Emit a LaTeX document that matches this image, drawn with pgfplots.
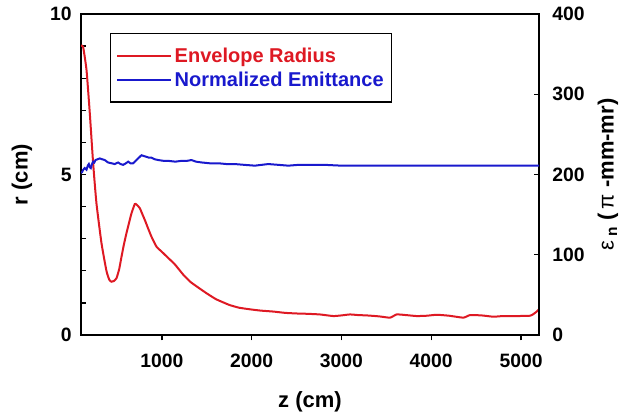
\documentclass[border=0pt]{standalone}
\usepackage{fontspec}
\setmainfont{Liberation Sans}
\usepackage{pgfplots}
\pgfplotsset{compat=1.18}
\definecolor{myred}{RGB}{222,25,35}
\definecolor{myblue}{RGB}{25,25,205}
\begin{document}
\begin{tikzpicture}
\pgfplotsset{
  every axis/.append style={
    scale only axis, width=343.5pt, height=240.75pt,
    xmin=100, xmax=5200,
    axis line style={line width=1.1pt},
    /pgf/number format/assume math mode=true,
    /pgf/number format/1000 sep={},
    scaled ticks=false,
    tick label style={font=\fontsize{14.5}{16}\selectfont\bfseries},
    label style={font=\fontsize{16.5}{19}\selectfont\bfseries},
    major tick length=4pt, minor tick length=3.5pt,
    every tick/.style={black, line width=1pt},
  }
}
\begin{axis}[
  ymin=0, ymax=10,
  ytick={0,5,10}, minor ytick={1,2,3,4,6,7,8,9},
  xtick={1000,2000,3000,4000,5000},
  xtick pos=left, ytick pos=left,
  xtick align=outside, ytick align=inside,
  xticklabel style={yshift=-6.5pt},
  yticklabel style={xshift=-3.5pt},
  xlabel={z (cm)}, ylabel={r (cm)},
  xlabel style={at={(axis description cs:0.5,-0.209)},anchor=center},
  ylabel style={at={(axis description cs:-0.129,0.5)},anchor=center},
]
\coordinate (bbll) at (axis description cs:-0.1769,-0.2523);
\coordinate (bbur) at (axis description cs:1.2183,1.0436);
\addplot[myred, line width=1.5pt, smooth, tension=0.3] coordinates {
(100,9.0) (123,8.98) (161,8.26) (198,6.9) (235,5.35) (272,4.1) (328,2.86)
(383,2.0) (415,1.72) (439,1.66) (465,1.68) (495,1.77) (525,2.05) (551,2.44)
(580,2.85) (606,3.17) (635,3.5) (662,3.79) (699,4.08) (720,4.06) (755,3.95)
(785,3.75) (811,3.58) (850,3.3) (885,3.06) (941,2.75) (997,2.6) (1071,2.4)
(1145,2.2) (1238,1.88) (1320,1.65) (1420,1.45) (1498,1.30) (1600,1.12)
(1680,1.02) (1758,0.93) (1860,0.85) (1981,0.80) (2100,0.76) (2241,0.73)
(2370,0.69) (2501,0.67) (2620,0.66) (2760,0.64) (2909,0.59) (3000,0.61)
(3095,0.64) (3190,0.62) (3281,0.61) (3420,0.58) (3541,0.54) (3615,0.64)
(3720,0.62) (3838,0.59) (3950,0.6) (4061,0.63) (4200,0.6) (4357,0.54)
(4432,0.62) (4560,0.61) (4692,0.57) (4800,0.59) (4950,0.59) (5100,0.60)
(5137,0.65) (5170,0.72) (5204,0.81)
};
\end{axis}
\begin{axis}[
  axis x line=none, axis y line*=right,
  axis line style={-},
  ymin=0, ymax=400, ytick={0,100,200,300,400},
  ytick align=inside, ytick pos=right,
  yticklabel style={xshift=6.5pt},
  ylabel={{\mdseries ε}\textsubscript{ n} (\,{\mdseries π} -mm-mr)},
  ylabel style={at={(axis description cs:1.1507,0.5)},anchor=center},
  legend style={at={(0.0633,0.9408)}, anchor=north west, draw=black,
    line width=1.1pt, font=\fontsize{15}{18}\selectfont\bfseries,
    inner xsep=4pt, inner ysep=8.5pt, row sep=1.5pt},
  legend cell align=left,
  legend image code/.code={\path (-1.5pt,0pt) -- (39pt,0pt);
    \draw[#1] (0pt,0pt) -- (34pt,0pt);},
]
\addlegendimage{myred, line width=1.5pt}
\addlegendentry{\textcolor{myred}{Envelope Radius}}
\addplot[myblue, line width=1.5pt] coordinates {
(100,202) (112,203) (125,206) (142,208) (161,206) (175,211) (187,213)
(198,209) (209,208) (222,213) (235,216) (248,215) (261,218) (285,219)
(309,220) (335,219) (365,218) (400,215) (439,214) (475,213) (513,215)
(540,213) (569,212) (600,214) (625,216) (650,214) (680,214) (700,216)
(718,218) (745,221) (773,224) (800,223) (829,222) (855,221) (885,221)
(920,219) (960,218) (1020,217) (1071,217) (1150,216) (1219,217) (1280,217)
(1330,218) (1380,216) (1442,215) (1530,214) (1628,214) (1720,213) (1813,213)
(1920,212) (2036,211) (2110,212) (2185,213) (2300,212) (2408,211) (2520,212)
(2631,212) (2816,212) (3000,211) (3300,211) (3600,211) (3900,211)
(4200,211) (4500,211) (4800,211) (5200,211)
};
\addlegendentry{\textcolor{myblue}{Normalized Emittance}}
\end{axis}
\pgfresetboundingbox
\path (bbll) rectangle (bbur);
\end{tikzpicture}
\end{document}
